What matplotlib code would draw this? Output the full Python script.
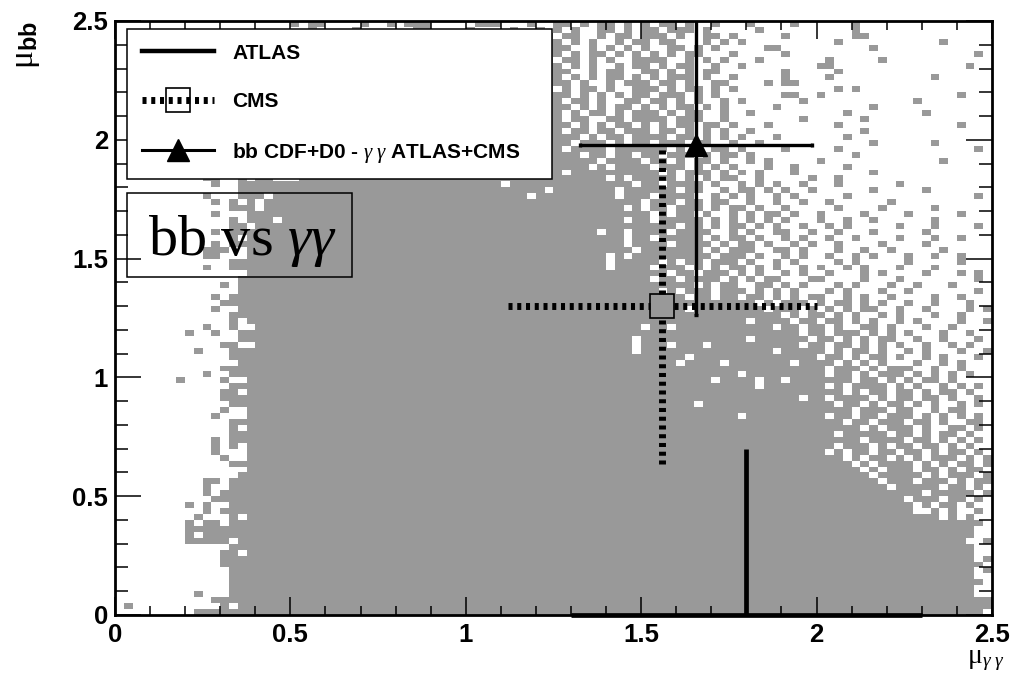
#!/usr/bin/env python3
"""bb vs gamma-gamma signal strength: 2D scan cells with ATLAS / CMS / combined points."""
import numpy as np
import matplotlib
matplotlib.use("Agg")
import matplotlib.pyplot as plt
from matplotlib.colors import ListedColormap
from matplotlib.lines import Line2D
from matplotlib.patches import Rectangle
from matplotlib.ticker import FixedLocator, FixedFormatter, MultipleLocator

plt.rcParams["font.family"] = ["Liberation Sans", "DejaVu Sans"]
plt.rcParams["mathtext.fontset"] = "custom"
plt.rcParams["mathtext.rm"] = "Liberation Serif"
plt.rcParams["mathtext.it"] = "Liberation Serif:italic"
plt.rcParams["mathtext.bf"] = "Liberation Sans:bold"
plt.rcParams["lines.scale_dashes"] = False

# ---- data -------------------------------------------------------------
# filled cells of the 100x100 scan (0.025 wide).
# each row: (row index, left part from col 0, right part ending at col 99);
# everything in between is filled.
hist_rows = [
    (99, "...................." "#.##....#." ".#.###...." ".###...#..",
         "##.#.##.#." "#.##.#..#." "..#....#.." "....#....." ".........."),
    (98, "...................." "..#....#.." "....##...." "#....#..#.",
         "#.#..##.#." "##.###.#.." "...#......" "....#....." ".........."),
    (97, "..", ".##..#.##." "###.#..##." "#.....#..." "....##...." ".........."),
    (96, "..", "#.#.#..#.#" "#.##...#.#" ".#........" "..#......." "....#....."),
    (95, "..", "##..#.#.#." "#..##.#.#." "....##...." "......#..." ".........."),
    (94, "..", "#.#.##.#.#" ".#.#.##..." "#.....#..." ".........." "........#."),
    (93, "..", ".##.#.#..#" "###..#.#.#" "...#......" ".#.....#.." ".........."),
    (92, "..", "#.#.#..#.#" "#.#.##..#." ".#........" "##........" ".......#.."),
    (91, "..", "##..#.##.." "##.#.#.##." "......#..." "..#......." ".........."),
    (90, "..", "#.#.#.##.#" ".#.###.#.." "#.....#..." ".#........" "...#......"),
    (89, "..", "##.#..#.##" "#.##.#..##" "....#.##.." ".........." ".........."),
    (88, "..", ".#.##.#..#" "##.#.##.#." "#........." "..#.#....." ".........."),
    (87, "..", "##.#.#.#.#" "#.###.#.#." "......##.." "#........." "......#..."),
    (86, "..", "#.##.#..##" ".##.#.#..#" ".#......#." ".........." ".#........"),
    (85, "..", "##.#.#.##." "#.#.##.#.#" ".....#...." "......#..." ".........."),
    (84, "..", "#.#.##.#.#" "##.#.##..#" "..#......." "...#......" "..#......."),
    (83, "..", "#.##..##.#" "###.###..#" "........#." ".....#...." ".........."),
    (82, "..", "##.#.#.##." "#.#.##.##." "#...#....." "..#......." "......#..."),
    (81, "..", "#.##.##.##" "#.##.#.#.#" "..#......." ".....#...." ".........."),
    (80, "..", "###.#.##.#" "###.##.#.#" ".#...#...." "...#......" ".........."),
    (79, "..", "##.###.#.#" "#.###.##.." "#..#......" "......#..." "...#......"),
    (78, "..", "#.####.###" "###.#.#.##" ".#....#..." "..#......." "........#."),
    (77, "..", "###.##.##." "##.###.#.#" "#.#......." "....#....." ".........."),
    (76, "..........#...##", "#####.####" ".##.#.##.#" "..#.#....." "#........." "....#....."),
    (75, "...........#..##", "####.#.###" "#.###.#.#." "#...#..#.." "...#......" ".........."),
    (74, "..........##...#", "#.########" "##.#.###.#" ".#.#...#.." "......#..." ".........."),
    (73, "..........##..#.##...#", "######.#.#" "####.#.#.#" "#..#.....#" "..#......." ".........."),
    (72, "...........#..##", "###.##.###" "#.#..#.#.#" "..#...#..." "...#......" "...."),
    (71, "..............##", "#.######.#" "#..#.##.#." "#..#......" "#.....#..." "...."),
    (70, "..........#...##", "#.###.####" "..#.#.#..#" ".#.....#.." ".........." "..#."),
    (69, "...........#.#.#", "####.###.#" "#.##..#..#" "..#..#...." "..#......." "...."),
    (68, ".............###", "##.#.##.##" "#.#.##.#.." "#.....#..." ".#.....#.." "...."),
    (67, "...........#...#", "#####.#.##" ".#..#.#.##" ".#..#....#" "....#....." "#..."),
    (66, ".............#.#", "##.##.####" "#.#.#.#.#." "#...#..#.." "#......#.." "...."),
    (65, ".............##.", "########.#" "#.#.##.#.#" "..#..#.#.." "...#...#.." "..#."),
    (64, "...........#.###", "##.####.##" "##..#.#..#" "#..#..#..." "#.....#..." "...."),
    (63, ".............#.#", "#####.####" "#.#.##.#.." "#.#..#..#." "...#...#.." "#..."),
    (62, "...........#.###", "#######.##" "##.#.##.#." ".#.#..#..." ".#....#..." "...."),
    (61, "..........###..#", "###.######" "#.#.###..#" "#.#...#..#" "..#.....#." "...."),
    (60, "..........##...#", "##.#######" "##.###.#.." "#.#..#..#." "#...#..#.." "#..."),
    (59, ".............###", "##.#.##.##" "#.#..#.#.." "..#.#....." "#.....#..."),
    (58, "..........#..###", "#.###.#.#." "##.#.#..#." "#..#.#...#" "...#......"),
    (57, "...............#", "###.##.###" ".#.#..#.#." ".#...#.#.." "..#...#.#."),
    (56, "..............##", "#.##.####." "#.#.##...#" "#....#...#" "........#."),
    (55, "............#.##", "######.#.#" "#..##.#.#." "..#.#...#." ".#...#...."),
    (54, "..............##", "##.#.###.#" "##.#.#.#.." ".#.#...#.." "#.......#."),
    (53, "...........#.###", "#####.##.#" "#.##.#.#.#" "#..#.#..#." "...#..#..."),
    (52, "............####", "##########" "###.#.###." "#.##.#.#.." "#..#...#.."),
    (51, "...........#..##", "#####.####" "####.###.#" ".#.#.##..#" "..#....#.#"),
    (50, ".............###", "##########" "######.#.#" "#.#.#..#.#" "...#..#..."),
    (49, ".............#.#", "##########" "##.####.##" ".##.#.#..#" ".#....#..#"),
    (48, "..........#..#..", "###.######" "#####.##.#" "#.#..##.#." "..#..#...."),
    (47, "........#..#..##", "##########" "########.#" "#.###.#.#." "#...#..#.."),
    (46, "..............##", "##########" "##.######." "##.#.#.##." ".#..#...#."),
    (45, "............##..", "#######.##" "########.#" "#.##.#.#.#" "..#..#.#.."),
    (44, ".........#...###", "##########" "#####.####" "#.#.##.#.." "#.#...#..#"),
    (43, ".............###", "##########" "##########" ".##.#.##.#" "..#.#...#."),
    (42, "..............##", "####.#####" "#######.##" "##.#.#.#.." ".#..#.#..."),
    (41, "............####", "##########" "##########" "#.###.#.##" "#..#..#..."),
    (40, "..........#..###", "##########" "#.##.#.###" ".#.#.#.#.."),
    (39, ".......#....#..#", "######.###" "####.##.#." "#.##.#...."),
    (38, ".............###", "##########" "#.#.####.#" ".#..#.#.#."),
    (37, "............##.#", "##########" "###.#.##.#" "#.#.##.#.."),
    (36, "............####", "########.#" "#.####.#.#" "#.##.#..#."),
    (35, ".............###", "##########" "##.##.#.##" ".#.#..#.#."),
    (34, "............#..#", "##########" "####.###.#" "#..#.##..."),
    (33, "...........#...#", "#.########" "#.##.##.##" "#.#.#.#.#."),
    (32, ".............###", "##########" "###.##.###" ".##.#..##."),
    (31, ".............#.#", "##########" "#####.#.##" "#.#..##.#."),
    (30, ".............###", "##########" "##.#####.#" "#.#.##.#.."),
    (29, "...........#.###", "##########" "#####.####" ".##.#.#.#."),
    (28, "...........#.#.#", "##.###.#.#" "#.##.#.#.."),
    (27, "...........#...#", "#.#.##.##." "##.#.##.#."),
    (26, "............#..#", "###.#.##.#" ".#.###.#.#"),
    (25, ".............###", "####.#.###" "#.#.#.##.#"),
    (24, "...............#", "#####.#.##" "#.##.#.##."),
    (23, "..............##", "######.###" "##.#.###.#"),
    (22, "..........##.###", "#######.##" "#.###.#.##"),
    (21, "..........#..###", "########.#" "####.##.#."),
    (20, "..........#.####", "##########" "##.#####.#"),
    (19, "...........#####", ".###.##.#."),
    (18, "........#.#..###", "#.#.##.#.."),
    (17, "..........#.####", "#..#.#..#."),
    (16, ".........#...#.#", "####.#.#.."),
    (15, "........#.##.###", "###."),
    (14, "........########", "##.."),
    (13, "........#.######", "##.."),
    (12, "........#####.##", "#..#"),
    (11, ".............###", "##.."),
    (10, "............##.#", "##.."),
    (9, "............####", "##.#"),
    (8, "............####", "###."),
    (7, ".............###", "##.#"),
    (6, ".............###", "##.."),
    (5, ".............###", "###."),
    (4, ".............###", "##.."),
    (3, ".........#...###", "##.."),
    (2, "...........#####", "####"),
    (1, ".#..........#.##", "####"),
    (0, ".........#######", "###."),
]
# isolated empty cells inside the filled region: (col, row)
hist_holes = [(55, 64), (58, 62), (58, 63), (56, 58), (56, 59), (56, 60),
              (59, 44), (59, 45), (59, 46), (60, 48), (61, 56), (63, 45),
              (65, 43), (66, 35), (68, 39), (69, 42), (71, 40), (73, 38),
              (73, 39), (49, 71), (51, 83), (16, 68), (16, 69), (17, 70),
              (18, 66), (44, 72), (47, 70)]
hist_range = (0.0, 2.5)

# ATLAS (solid)
atlas_x = [1.80]
atlas_y = [0.00]
atlas_xerr = [0.50]
atlas_yerr_lo = [0.00]
atlas_yerr_hi = [0.70]
# CMS (dotted, open square)
cms_x = [1.56]
cms_y = [1.30]
cms_xerr = [0.44]
cms_yerr = [0.665]
# bb CDF+D0 - gamma gamma ATLAS+CMS (triangle)
comb_x = [1.657]
comb_y = [1.978]
comb_xerr = [0.33]
comb_yerr = [0.715]

major_ticks = [0.0, 0.5, 1.0, 1.5, 2.0, 2.5]
tick_labels = ["0", "0.5", "1", "1.5", "2", "2.5"]
legend_labels = ["ATLAS", "CMS", r"bb CDF+D0 - $\gamma\ \gamma$ ATLAS+CMS"]

# ---- figure -----------------------------------------------------------
GRAY = "#999999"
fig = plt.figure(figsize=(10.12, 6.77), dpi=100)
ax = fig.add_axes([0.1136, 0.0916, 0.8666, 0.8774])

n = len(hist_rows)
grid = np.zeros((n, n))
for j, left, right in hist_rows:
    row = (left + "#" * n)[:n - len(right)] + right
    grid[j] = [c == "#" for c in row]
for col, j in hist_holes:
    grid[j, col] = 0
ax.imshow(np.ma.masked_equal(grid, 0), origin="lower", cmap=ListedColormap([GRAY]),
          extent=(*hist_range, *hist_range), interpolation="nearest",
          aspect="auto", zorder=1)

ax.set_xlim(*hist_range)
ax.set_ylim(*hist_range)

# ATLAS
ax.errorbar(atlas_x, atlas_y, xerr=atlas_xerr, yerr=[atlas_yerr_lo, atlas_yerr_hi],
            fmt="none", ecolor="k", elinewidth=3.4, capsize=0, zorder=3, clip_on=False)

# CMS: dotted bars that stop at the edge of the open square
cms_ms = 17
bb = ax.get_window_extent()
half_px = cms_ms / 2 * fig.dpi / 72
gx = half_px * (hist_range[1] - hist_range[0]) / bb.width
gy = half_px * (hist_range[1] - hist_range[0]) / bb.height
cms_dash = (0, (2.9, 3.4))
for x, y, ex, ey in zip(cms_x, cms_y, cms_xerr, cms_yerr):
    ax.hlines([y, y], [x - ex, x + gx], [x - gx, x + ex], colors="k",
              linewidth=5, linestyles=[cms_dash], zorder=3)
    ax.vlines([x, x], [y - ey, y + gy], [y - gy, y + ey], colors="k",
              linewidth=5, linestyles=[cms_dash], zorder=3)
ax.plot(cms_x, cms_y, ls="none", marker="s", ms=cms_ms, mfc="none",
        mec="k", mew=1.2, zorder=4)

# combination
ax.errorbar(comb_x, comb_y, xerr=comb_xerr, yerr=comb_yerr, fmt="^", color="k",
            ms=16, elinewidth=2.4, capsize=1.5, capthick=2.4, zorder=4)

# axes frame and ticks (ROOT style: inward on all sides)
for sp in ax.spines.values():
    sp.set_linewidth(2.0)
    sp.set_zorder(6)
ax.xaxis.set_major_locator(FixedLocator(major_ticks))
ax.yaxis.set_major_locator(FixedLocator(major_ticks))
ax.xaxis.set_major_formatter(FixedFormatter(tick_labels))
ax.yaxis.set_major_formatter(FixedFormatter(tick_labels))
ax.xaxis.set_minor_locator(MultipleLocator(0.1))
ax.yaxis.set_minor_locator(MultipleLocator(0.1))
ax.tick_params(which="both", direction="in", top=True, right=True, width=1.1,
               labelsize=18.5)
ax.xaxis.set_tick_params(which="major", length=13, pad=6)
ax.xaxis.set_tick_params(which="minor", length=6.5)
ax.yaxis.set_tick_params(which="major", length=19, pad=5)
ax.yaxis.set_tick_params(which="minor", length=9.5)
for lab in ax.get_xticklabels() + ax.get_yticklabels():
    lab.set_fontweight("bold")

# axis titles
fig.text(0.026, 0.968, r"$\mathrm{\mu}_{\mathbf{bb}}$", rotation=90, ha="center",
         va="top", fontsize=24)
fig.text(0.993, 0.0205, r"$\mathrm{\mu}_{\gamma\ \gamma}$", ha="right",
         va="baseline", fontsize=20)

# legend
handles = [
    Line2D([], [], color="k", lw=3.2),
    Line2D([], [], color="k", lw=5, ls=cms_dash, marker="s", ms=cms_ms,
           mfc="none", mec="k", mew=1.2),
    Line2D([], [], color="k", lw=2.2, marker="^", ms=16),
]
leg = ax.legend(handles, legend_labels, loc="upper left",
                bbox_to_anchor=(0.0137, 0.9865, 0.4843, 0.0), mode="expand",
                borderaxespad=0, borderpad=0.70, labelspacing=1.42,
                handlelength=3.5, handletextpad=0.85, fancybox=False,
                framealpha=1, edgecolor="k",
                prop={"family": "Liberation Sans", "weight": "bold", "size": 15})
leg.get_frame().set_linewidth(1.1)
leg.set_zorder(7)

# label box
ax.add_patch(Rectangle((0.0137, 0.569), 0.2565, 0.1415, transform=ax.transAxes,
                       fill=False, ec="k", lw=1.1, zorder=5))
ax.text(0.1448, 0.606, r"bb vs $\gamma\gamma$", transform=ax.transAxes,
        ha="center", va="baseline", family="Liberation Serif", fontsize=42,
        zorder=5)

fig.savefig("out.png", dpi=100)
